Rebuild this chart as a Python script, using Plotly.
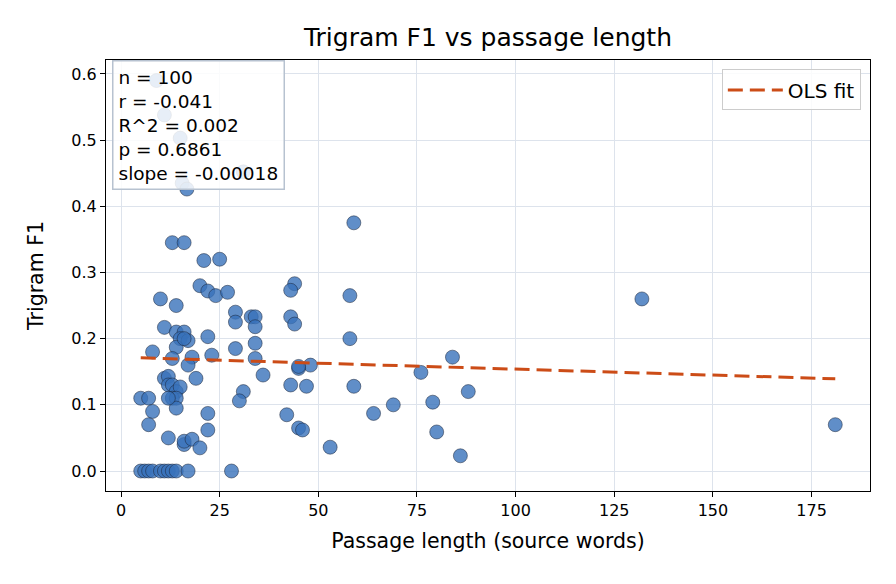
import plotly.graph_objects as go

# Passage length (source words) and Trigram F1
passage_len = [
    9, 11, 15, 31, 15.5, 16.7, 13, 16, 59, 21,
    25, 20, 22, 24, 27, 10, 14, 29, 29, 33,
    34, 34, 11, 14, 16, 15, 17, 22, 14, 8,
    34, 29, 18, 23, 13, 17, 34, 11, 12, 12,
    13, 14, 15, 19, 13, 14, 14, 5, 7, 8,
    7, 12, 16, 16, 18, 20, 22, 22, 31, 30,
    36, 28, 5, 6, 7, 8, 10, 11, 12, 13,
    14, 17, 44, 43, 43, 44, 58, 58, 48, 45,
    45, 43, 47, 59, 42, 45, 46, 53, 64, 69,
    76, 79, 84, 80, 86, 88, 132, 181, 16, 12,
]
trigram_f1 = [
    0.590, 0.538, 0.503, 0.452, 0.435, 0.426, 0.345, 0.345, 0.375, 0.318,
    0.320, 0.280, 0.272, 0.265, 0.270, 0.260, 0.250, 0.240, 0.225, 0.233,
    0.233, 0.218, 0.217, 0.210, 0.210, 0.200, 0.197, 0.203, 0.187, 0.180,
    0.193, 0.185, 0.172, 0.175, 0.170, 0.160, 0.170, 0.140, 0.143, 0.130,
    0.130, 0.120, 0.127, 0.140, 0.110, 0.110, 0.095, 0.110, 0.110, 0.090,
    0.070, 0.050, 0.040, 0.045, 0.048, 0.035, 0.062, 0.087, 0.120, 0.106,
    0.145, 0.000, 0.000, 0.000, 0.000, 0.000, 0.000, 0.000, 0.000, 0.000,
    0.000, 0.000, 0.283, 0.273, 0.233, 0.222, 0.265, 0.200, 0.160, 0.155,
    0.158, 0.130, 0.128, 0.128, 0.085, 0.065, 0.062, 0.036, 0.087, 0.100,
    0.149, 0.104, 0.172, 0.059, 0.023, 0.120, 0.260, 0.070, 0.200, 0.110,
]

# OLS fit parameters and summary statistics
fit_intercept = 0.1719
fit_slope = -0.00018
stats_lines = ["n = 100", "r = -0.041", "R^2 = 0.002", "p = 0.6861", "slope = -0.00018"]

x_ticks = [0, 25, 50, 75, 100, 125, 150, 175]
y_ticks = [0.0, 0.1, 0.2, 0.3, 0.4, 0.5, 0.6]

fit_x = [min(passage_len), max(passage_len)]
fit_y = [fit_intercept + fit_slope * v for v in fit_x]

FONT = "DejaVu Sans"

fig = go.Figure()
fig.add_trace(go.Scatter(
    x=passage_len, y=trigram_f1, mode="markers", showlegend=False,
    marker=dict(size=14, color="rgba(56,114,186,0.8)",
                line=dict(color="rgba(25,35,55,0.85)", width=0.6)),
))
fig.add_trace(go.Scatter(
    x=fit_x, y=fit_y, mode="lines", name="OLS fit",
    line=dict(color="#cc4c17", width=3, dash="15px,7px"),
))

axis_common = dict(
    showline=True, linecolor="black", linewidth=1, mirror=True,
    ticks="outside", ticklen=5, tickcolor="black",
    showgrid=True, gridcolor="#dde3ec", gridwidth=1, zeroline=False,
    tickfont=dict(family=FONT, size=16, color="black"),
)

fig.update_layout(
    width=896, height=584,
    margin=dict(l=106, r=26, t=60, b=93),
    paper_bgcolor="white", plot_bgcolor="white",
    font=dict(family=FONT, color="black"),
    title=dict(text="Trigram F1 vs passage length", x=0.5 * (106 + 870) / 896, xanchor="center",
               y=1 - 37 / 584, yanchor="middle", font=dict(family=FONT, size=25)),
    xaxis=dict(range=[-3.8, 189.8], tickvals=x_ticks, ticktext=[str(t) for t in x_ticks],
               title=dict(text="Passage length (source words)", font=dict(family=FONT, size=20.5), standoff=14),
               **axis_common),
    yaxis=dict(range=[-0.0302, 0.621], tickvals=y_ticks, ticktext=[f"{t:.1f}" for t in y_ticks],
               title=dict(text="Trigram F1", font=dict(family=FONT, size=20.5), standoff=22),
               **axis_common),
    legend=dict(x=0.988, y=0.978, xanchor="right", yanchor="top",
                bgcolor="rgba(255,255,255,0.85)", bordercolor="#cccccc", borderwidth=1,
                itemwidth=55, font=dict(family=FONT, size=20), tracegroupgap=0),
    annotations=[dict(
        xref="paper", yref="paper", x=0.008, y=1.0, xanchor="left", yanchor="top",
        text="<br>".join(stats_lines), align="left", showarrow=False,
        font=dict(family=FONT, size=18.5, color="black"),
        bgcolor="rgba(255,255,255,0.85)", bordercolor="#b7c2d0", borderwidth=1.5, borderpad=5,
    )],
)

fig.write_html("out.html")
